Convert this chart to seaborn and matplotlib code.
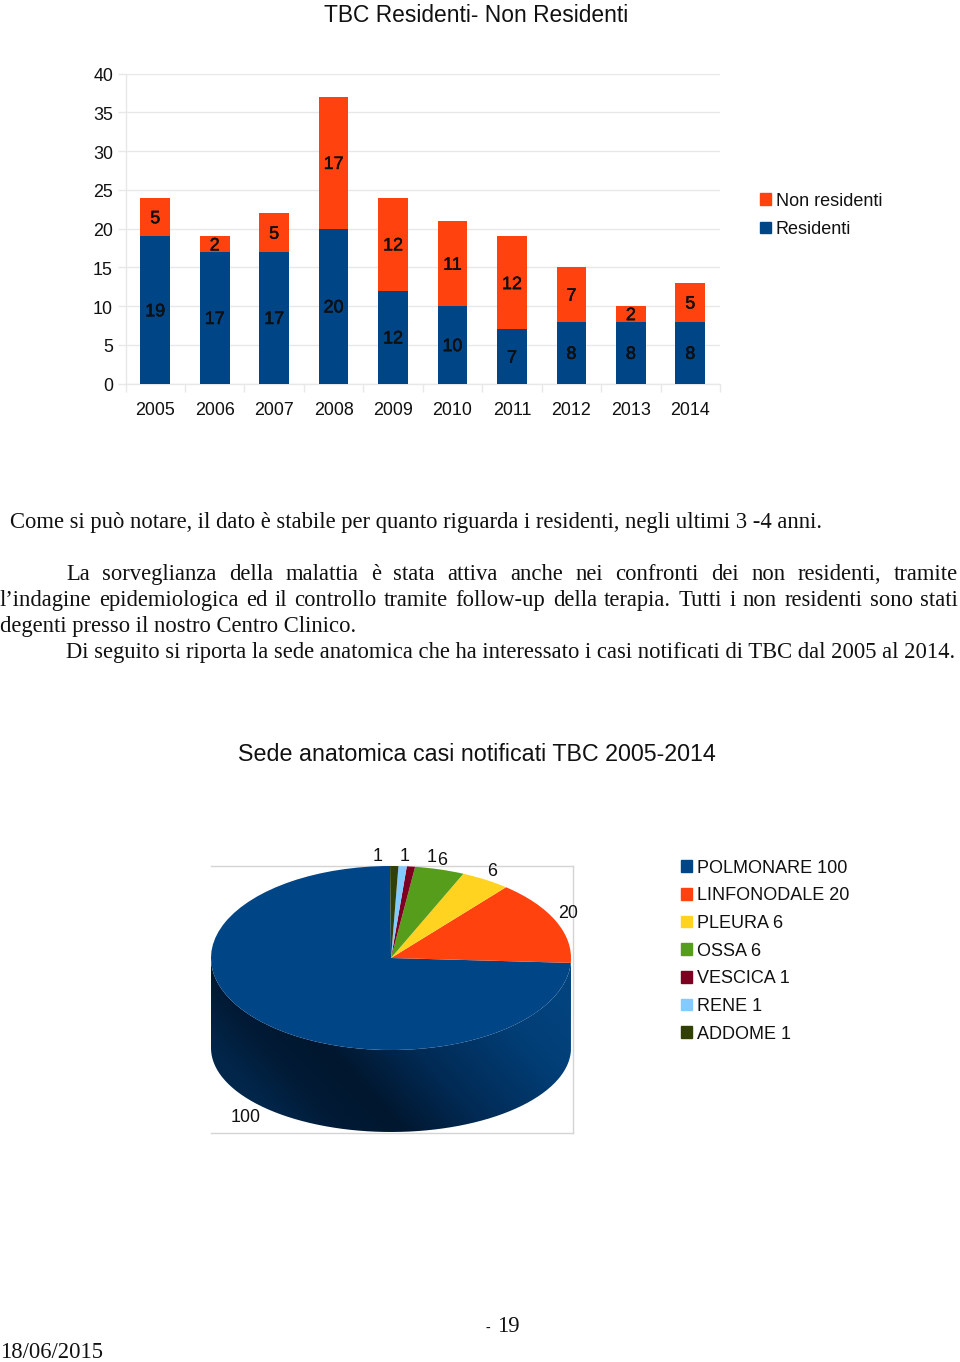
"""
Residenti / Non residenti stacked bars and the anatomical site pie, on a report page.
"""
import numpy as np
import pandas as pd
import matplotlib
matplotlib.use("Agg")
import matplotlib.pyplot as plt
import matplotlib.patheffects as pe
from matplotlib.colors import LinearSegmentedColormap
from matplotlib.patches import PathPatch, Patch
from matplotlib.path import Path
from matplotlib.transforms import ScaledTranslation
import seaborn as sns

# ----------------------------------------------------------------------------
# data
# ----------------------------------------------------------------------------
years = ['2005', '2006', '2007', '2008', '2009', '2010', '2011', '2012', '2013', '2014']
residenti = [19, 17, 17, 20, 12, 10, 7, 8, 8, 8]
non_residenti = [5, 2, 5, 17, 12, 11, 12, 7, 2, 5]
y_ticks = [0, 5, 10, 15, 20, 25, 30, 35, 40]

sedi = ['POLMONARE', 'LINFONODALE', 'PLEURA', 'OSSA', 'VESCICA', 'RENE', 'ADDOME']
casi = [100, 20, 6, 6, 1, 1, 1]

title_bar = 'TBC Residenti- Non Residenti'
title_pie = 'Sede anatomica casi notificati TBC 2005-2014'
line_first = 'Come si può notare, il dato è stabile per quanto riguarda i residenti, negli ultimi 3 -4 anni.'
para_1 = 'La sorveglianza della malattia è stata attiva anche nei confronti dei non residenti, tramite'
para_2 = 'l’indagine epidemiologica ed il controllo tramite follow-up della terapia. Tutti i non residenti sono stati'
para_3 = 'degenti presso il nostro Centro Clinico.'
para_4 = 'Di seguito si riporta la sede anatomica che ha interessato i casi notificati di TBC dal 2005 al 2014.'
page_no = '19'
date_str = '18/06/2015'

BLUE = '#004586'
ORANGE = '#ff420e'
pie_colors = sns.color_palette(['#004586', '#ff420e', '#ffd320', '#579d1c', '#7e0021', '#83caff', '#314004'])
GRID = '#e8e8e8'
SANS = 'Liberation Sans'
SERIF = 'Liberation Serif'
W, H = 960, 1362

sns.set_theme(style='white')
plt.rcParams['font.family'] = [SANS, 'DejaVu Sans']

fig = plt.figure(figsize=(W / 100, H / 100), dpi=100, facecolor='white')


def box(x0, y0, x1, y1):
    # pixel box (top-left origin) to figure fraction
    return [x0 / W, 1 - y1 / H, (x1 - x0) / W, (y1 - y0) / H]


def put(x, y, s, size, family=SANS, ha='left', **kw):
    return fig.text(x / W, 1 - y / H, s, fontsize=size, family=family, ha=ha, va='baseline',
                    color=kw.pop('color', '#111111'), **kw)


def justified(s, x0, x1, y, size):
    renderer = fig.canvas.get_renderer()
    words = s.split(' ')
    arts = [put(x0, y, w, size, family=SERIF) for w in words]
    widths = [a.get_window_extent(renderer).width for a in arts]
    gap = (x1 - x0 - sum(widths)) / (len(words) - 1)
    x = x0
    for a, w in zip(arts, widths):
        a.set_x(x / W)
        x += w + gap


# ----------------------------------------------------------------------------
# stacked bars
# ----------------------------------------------------------------------------
df = pd.DataFrame({'anno': years, 'residenti': residenti, 'non_residenti': non_residenti})
df['totale'] = df['residenti'] + df['non_residenti']

ax = fig.add_axes(box(125.5, 73.7, 720, 383.7))
sns.barplot(data=df, x='anno', y='totale', color=ORANGE, saturation=1, width=0.5, linewidth=0,
            ax=ax, zorder=3)
sns.barplot(data=df, x='anno', y='residenti', color=BLUE, saturation=1, width=0.5, linewidth=0,
            ax=ax, zorder=3)
ax.set_xlim(-0.5, 9.5)
ax.set_ylim(0, 40)
ax.set_xlabel('')
ax.set_ylabel('')
ax.set_yticks(y_ticks)
ax.set_xticks(np.arange(-0.5, 10, 1), minor=True)
ax.grid(axis='y', color=GRID, lw=1, zorder=0)
ax.grid(axis='x', visible=False)
for side in ['top', 'right']:
    ax.spines[side].set_visible(False)
for side in ['left', 'bottom']:
    ax.spines[side].set_color(GRID)
    ax.spines[side].set_linewidth(1)
ax.tick_params(axis='y', length=6, width=1, color=GRID, labelsize=12.9, pad=3, labelcolor='#111111', left=True)
ax.tick_params(axis='x', which='major', length=0, labelsize=12.9, pad=13, labelcolor='#111111')
ax.tick_params(axis='x', which='minor', length=6, width=1, color=GRID, bottom=True)
# y labels sit about a pixel lower than the tick
nudge = ScaledTranslation(0, -1 / 100, fig.dpi_scale_trans)
for lab in ax.get_yticklabels():
    lab.set_transform(lab.get_transform() + nudge)

stroke = [pe.withStroke(linewidth=0.3, foreground='black')]
for rect, rv, nv in zip(ax.containers[0], residenti, non_residenti):
    xc = rect.get_x() + rect.get_width() / 2
    for val, yc in [(rv, rv / 2), (nv, rv + nv / 2)]:
        ax.annotate(str(val), (xc, yc), xytext=(0, -1.2), textcoords='offset points', ha='center',
                    va='center', fontsize=12.9, color='#111111', path_effects=stroke, zorder=5)

fig.legend(handles=[Patch(color=ORANGE, label='Non residenti'), Patch(color=BLUE, label='Residenti')],
           loc='upper left', bbox_to_anchor=(756 / W, 1 - 189 / H), frameon=False, fontsize=13,
           handlelength=0.62, handleheight=0.62, handletextpad=0.28, labelspacing=0.62,
           borderpad=0.2, borderaxespad=0, labelcolor='#111111')

# ----------------------------------------------------------------------------
# pie with extruded side
# ----------------------------------------------------------------------------
ax2 = fig.add_axes(box(211, 866, 573, 1133))
ax2.pie(casi, colors=pie_colors, startangle=90.3, counterclock=True, radius=1,
        wedgeprops=dict(linewidth=0), center=(0, 0))
ax2.set_aspect('auto')

t = np.linspace(np.pi, 2 * np.pi, 200)
upper = np.column_stack([np.cos(t), np.sin(t)])
lower = np.column_stack([np.cos(t), -0.978 + 0.913 * np.sin(t)])
side = Path(np.vstack([upper, lower[::-1], upper[:1]]))
side_cmap = LinearSegmentedColormap.from_list(
    'side', [(0, '#03294f'), (0.18, '#02264a'), (0.3, '#011a35'), (0.42, '#01172f'),
             (0.6, '#012a54'), (0.85, '#023e76'), (1, '#02437e')])
gx, gy = np.meshgrid(np.linspace(0, 1, 256), np.linspace(1, 0, 128))
img = ax2.imshow(np.clip(0.75 * gx + 0.35 * gy, 0, 1), cmap=side_cmap, vmin=0, vmax=1, extent=(-1, 1, -2, 0),
                 aspect='auto', zorder=0, interpolation='bilinear')
patch = PathPatch(side, transform=ax2.transData, facecolor='none', edgecolor='none')
ax2.add_patch(patch)
img.set_clip_path(patch)

ax2.set_xlim(-1.0, 1.011)
ax2.set_ylim(-1.902, 1.0)
ax2.set_aspect('auto')
ax2.set_frame_on(True)
ax2.set_xticks([])
ax2.set_yticks([])
for side_name, sp in ax2.spines.items():
    sp.set_color('#d4d4d4')
    sp.set_linewidth(1)
    sp.set_zorder(-1)
ax2.spines['left'].set_visible(False)

pie_label_xy = [(246, 1122), (568, 918), (492, 876), (442, 865), (432, 862), (405, 861), (378, 861)]
for (lx, ly), v in zip(pie_label_xy, casi):
    put(lx, ly, str(v), 12.9, ha='center')

fig.legend(handles=[Patch(color=c, label=f'{s} {v}') for c, s, v in zip(pie_colors, sedi, casi)],
           loc='upper left', bbox_to_anchor=(677 / W, 1 - 856 / H), frameon=False, fontsize=13,
           handlelength=0.62, handleheight=0.62, handletextpad=0.28, labelspacing=0.59,
           borderpad=0.2, borderaxespad=0, labelcolor='#111111')

# ----------------------------------------------------------------------------
# page text
# ----------------------------------------------------------------------------
put(476, 22, title_bar, 16.4, ha='center')
put(477, 761, title_pie, 16.75, ha='center')

put(10, 527.5, line_first, 16.25, family=SERIF)
justified(para_1, 66, 958, 580, 16.25)
justified(para_2, 0, 958, 605.5, 16.25)
put(0, 632, para_3, 16.25, family=SERIF)
put(66, 658, para_4, 16.25, family=SERIF)

put(486, 1332, '-', 10, family=SERIF)
put(497, 1332, page_no, 16.25, family=SERIF)
put(0, 1358.5, date_str, 16.25, family=SERIF)

plt.savefig('out.png', dpi=100, facecolor='white')
plt.close()
